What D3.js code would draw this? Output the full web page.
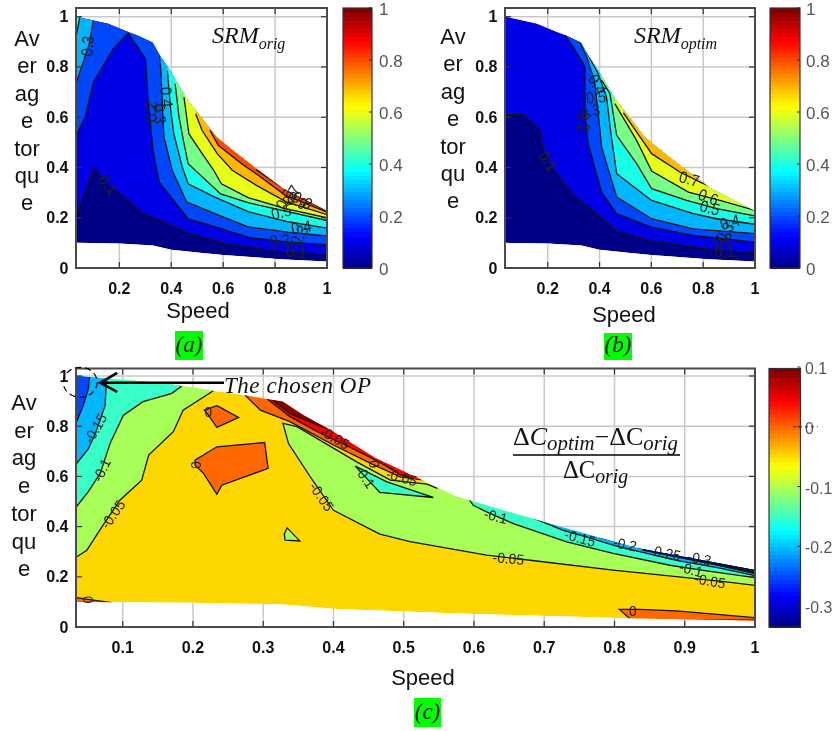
<!DOCTYPE html>
<html><head><meta charset="utf-8">
<script src="https://cdnjs.cloudflare.com/ajax/libs/d3/7.8.5/d3.min.js"></script>
<style>
html,body{margin:0;padding:0;background:#fff;overflow:hidden}
svg{display:block;filter:blur(0.4px)}
text{font-family:"Liberation Sans",Arial,sans-serif}
.serif{font-family:"Liberation Serif",serif;font-style:italic}
</style></head><body><svg id="c" width="833" height="731"></svg>
<script>
// ---------- DATA (speed, average torque) ----------
const envelopeTop=[[.033,1],[.1,.985],[.157,.972],[.234,.939],[.27,.925],[.328,.897],[.356,.846],[.395,.786],[.459,.674],[.51,.607],[.574,.521],[.638,.468],[.728,.395],[.83,.316],[.92,.269],[1,.227]];
const envelopeBottom=[[1,.026],[.82,.035],[.6,.052],[.52,.06],[.4,.073],[.33,.09],[.2,.097],[.033,.1]];
const xTicksSmall=[.2,.4,.6,.8,1];
const yTicks=[0,.2,.4,.6,.8,1];
const xTicksWide=[.1,.2,.3,.4,.5,.6,.7,.8,.9,1];
const barTicksSRM=[0,.2,.4,.6,.8,1];
const barTicksDelta=[-.3,-.2,-.1,0,.1];
const yLabelPieces=["Av","er","ag","e","tor","qu","e"];

const srmOrigContours=[
 {fill:.1,line:[[.033,.203],[.102,.398],[.151,.336],[.234,.269],[.292,.216],[.356,.19],[.465,.139],[.612,.097],[.741,.077],[.843,.061],[1,.057]]},
 {fill:.2,line:[[.033,.525],[.068,.601],[.1,.74],[.177,.873],[.234,.935],[.301,.833],[.311,.667],[.33,.468],[.354,.342],[.465,.196],[.574,.163],[.702,.121],[.856,.103],[1,.093]]},
 {fill:.3,line:[[.354,.846],[.36,.786],[.366,.64],[.372,.521],[.404,.388],[.459,.263],[.568,.216],[.696,.164],[.85,.143],[1,.128]]},
 {fill:.4,line:[[.385,.786],[.398,.627],[.41,.534],[.442,.403],[.465,.335],[.568,.282],[.696,.224],[.85,.184],[1,.159]]},
 {fill:.5,line:[[.415,.733],[.43,.6],[.449,.496],[.465,.415],[.59,.295],[.696,.26],[.84,.226],[1,.189]]},
 {fill:.6,line:[[.449,.68],[.468,.534],[.519,.455],[.564,.388],[.593,.335],[.696,.28],[.84,.236],[1,.2]]},
 {fill:.7,line:[[.494,.613],[.519,.547],[.577,.455],[.635,.389],[.728,.329],[.843,.263],[1,.212]]},
 {fill:.8,line:[[.549,.547],[.581,.488],[.671,.415],[.735,.369],[.838,.29],[1,.222]]},
 {fill:.9,line:[[.728,.39],[.843,.31],[1,.226]]},
 {fill:.3,mode:"upLeft",line:[[.033,.733],[.084,.893],[.1,.985]]},
 {fill:.4,mode:"upLeft",line:[[.033,.919],[.048,.999]]}
];
const srmOrigLabels=[
 ["0.3",.077,.883,-85],["0.1",.157,.333,50],["0.2",.321,.621,-90],["0.3",.356,.614,85],["0.4",.382,.68,85],
 ["0.5",.824,.223,-15],["0.6",.837,.273,-60],["0.7",.862,.289,-60],["0.9",.886,.269,30],["0.8",.905,.269,30],
 ["0.4",.901,.163,-10],["0.3",.892,.13,-60],["0.2",.818,.11,-5],["0.1",.882,.064,5]
];
const srmOptimContours=[
 {fill:.1,line:[[.035,.611],[.103,.611],[.167,.554],[.183,.468],[.221,.395],[.299,.289],[.389,.216],[.466,.147],[.601,.107],[.762,.084],[.852,.07],[1,.061]]},
 {fill:.2,line:[[.266,.928],[.299,.879],[.344,.8],[.344,.614],[.356,.495],[.408,.302],[.466,.216],[.601,.163],[.762,.13],[1,.103]]},
 {fill:.3,line:[[.324,.899],[.35,.84],[.38,.747],[.395,.614],[.408,.481],[.466,.282],[.601,.196],[.762,.156],[1,.137]]},
 {fill:.4,line:[[.35,.859],[.395,.773],[.427,.68],[.444,.534],[.466,.375],[.601,.269],[.762,.216],[.852,.196],[1,.174]]},
 {fill:.5,line:[[.408,.747],[.44,.694],[.466,.528],[.543,.415],[.601,.316],[.736,.269],[.852,.236],[1,.207]]},
 {fill:.6,line:[[.459,.654],[.543,.508],[.601,.386],[.743,.302],[.865,.269],[1,.229]]},
 {fill:.7,line:[[.492,.617],[.601,.455],[.71,.382],[.788,.342],[.878,.302]]}
];
const srmOptimLabels=[
 ["0.1",.202,.426,55],["0.2",.34,.581,90],["0.3",.363,.625,-10],["0.5",.386,.68,-5],["0.4",.391,.731,60],
 ["0.7",.746,.355,15],["0.6",.82,.282,20],["0.5",.826,.24,15],["0.4",.903,.183,-15],["0.3",.884,.143,-60],["0.2",.878,.11,-15],["0.1",.884,.068,0]
];
const deltaBaseFill=-.05;
const deltaContours=[
 {fill:-.1,mode:"upLeft",line:[[.034,.279],[.049,.306],[.072,.406],[.096,.505],[.127,.585],[.137,.685],[.172,.778],[.186,.864],[.229,.941]]},
 {fill:-.15,mode:"upLeft",line:[[.034,.479],[.051,.539],[.068,.612],[.082,.731],[.101,.844],[.129,.898],[.17,.931],[.184,.96]]},
 {fill:-.2,mode:"upLeft",line:[[.034,.65],[.051,.71],[.061,.77],[.075,.883],[.077,.995]]},
 {fill:-.25,mode:"upLeft",line:[[.034,.816],[.044,.883],[.051,.949],[.053,.998]]},
 {fill:-.1,line:[[.548,.552],[.533,.569],[.481,.585],[.433,.658],[.348,.798],[.328,.811],[.336,.731],[.367,.598],[.4,.465],[.466,.37],[.509,.34],[.618,.286],[.68,.266],[.798,.227],[.902,.197],[.959,.18],[1,.166]]},
 {fill:-.15,line:[[.592,.512],[.599,.485],[.618,.459],[.656,.412],[.732,.339],[.798,.293],[.879,.246],[.926,.226],[1,.197]]},
 {fill:-.2,line:[[.675,.445],[.727,.385],[.755,.363],[.803,.322],[.888,.265],[.95,.235],[1,.205]]},
 {fill:-.25,line:[[.779,.357],[.85,.303],[.912,.268],[1,.213]]},
 {fill:-.3,line:[[.84,.306],[.92,.262],[1,.219]]},
 {fill:-.35,line:[[.9,.273],[.95,.25],[1,.223]]},
 {fill:0,line:[[.274,.924],[.296,.864],[.338,.818],[.4,.725],[.455,.649],[.495,.598],[.53,.585]]},
 {fill:.05,line:[[.305,.91],[.338,.838],[.386,.765],[.424,.715],[.455,.672],[.476,.64],[.495,.607],[.514,.59]]},
 {fill:.1,line:[[.312,.907],[.338,.851],[.39,.79]]},
 {fill:0,mode:"closed",line:[[.234,.882],[.265,.835],[.234,.795],[.222,.844],[.216,.864]]},
 {fill:0,mode:"closed",line:[[.203,.665],[.234,.718],[.302,.735],[.307,.632],[.241,.565],[.234,.529],[.215,.612],[.203,.645]]},
 {fill:-.1,mode:"closed",line:[[.334,.395],[.352,.343],[.331,.346],[.33,.37]]},
 {fill:-.15,mode:"closed",line:[[.431,.641],[.476,.578],[.542,.516],[.466,.536]]},
 {fill:0,mode:"down",line:[[.034,.117],[.053,.109],[.084,.097]]},
 {fill:0,mode:"down",line:[[.822,.033],[.807,.07],[.836,.07],[.888,.064],[1,.037]]},
 {fill:.05,mode:"down",stroke:false,line:[[.893,.03],[1,.033]]}
];
const deltaLabels=[
 ["-0.15",.061,.791,-60],["-0.1",.07,.625,-65],["-0.05",.086,.449,-55],["0",.051,.109,-90],["0",.222,.858,0],["0",.204,.645,90],
 ["-0.05",.383,.519,55],["-0.05",.402,.754,30],["0",.458,.649,85],["-0.1",.445,.598,55],["-0.05",.497,.596,15],
 ["-0.1",.631,.441,15],["-0.15",.751,.355,15],["-0.2",.815,.33,12],["-0.25",.872,.295,12],["-0.3",.921,.273,12],
 ["-0.1",.909,.229,15],["-0.05",.936,.184,10],["-0.05",.649,.273,5],["0",.826,.064,0]
];

// ---------- helpers ----------
const svg=d3.select("#c");
const clamp=v=>Math.max(0,Math.min(1,v));
const jet=x=>{const q=(Math.floor(clamp(x)*63.999)+.5)/64;
 return d3.rgb(255*clamp(Math.min(4*q-1.5,-4*q+4.5)),255*clamp(Math.min(4*q-.5,-4*q+3.5)),255*clamp(Math.min(4*q+.5,-4*q+2.5)));};
let uid=0;
function closeLine(c){
 const l=c.line,a=l[0],b=l[l.length-1];
 if(c.mode==="closed")return l;
 if(c.mode==="upLeft")return [...l,[b[0],3],[-1,3],[-1,a[1]]];
 if(c.mode==="down")return [...l,[b[0]+(b[0]>=1?2:0),-1],[a[0],-1]];
 return [...l,[3,b[1]],[3,3],[a[0],3]];
}
function panel(o){
 const x=d3.scaleLinear().domain(o.xDomain).range([o.l,o.r]);
 const y=d3.scaleLinear().domain([0,1]).range([o.y0,o.y1]);
 const bot=o.b, top=o.t;
 const line=d3.line().x(d=>x(d[0])).y(d=>y(d[1]));
 const cv=d3.scaleLinear().domain(o.barDomain).range([0,1]);
 const id="clip"+(uid++);
 const env=[...envelopeTop,...envelopeBottom].map(d=>[Math.max(d[0],o.xDomain[0]),d[1]]);
 svg.append("clipPath").attr("id",id).append("path").attr("d",line(env)+"Z");
 const g=svg.append("g");
 // grid
 g.selectAll(".gx").data(o.xTicks).join("line").attr("x1",d=>x(d)).attr("x2",d=>x(d)).attr("y1",top).attr("y2",bot).attr("stroke","#c9c9c9").attr("stroke-width",1.5);
 g.selectAll(".gy").data(yTicks).join("line").attr("x1",o.l).attr("x2",o.r).attr("y1",d=>y(d)).attr("y2",d=>y(d)).attr("stroke","#c9c9c9").attr("stroke-width",1.5);
 // contour fills
 const m=g.append("g").attr("clip-path",`url(#${id})`);
 m.append("path").attr("d",line(env)+"Z").attr("fill",jet(cv(o.base)));
 o.contours.forEach(c=>{
  m.append("path").attr("d",line(closeLine(c))+"Z").attr("fill",jet(cv(c.fill)));
  if(c.stroke!==false)m.append("path").attr("d",line(c.line)+(c.mode==="closed"?"Z":"")).attr("fill","none").attr("stroke","#141414").attr("stroke-width",1.3);
 });
 // ticks and frame
 const tick=g.append("g").attr("stroke","#333").attr("stroke-width",1.2);
 o.xTicks.forEach(v=>{tick.append("line").attr("x1",x(v)).attr("x2",x(v)).attr("y1",bot).attr("y2",bot-6);tick.append("line").attr("x1",x(v)).attr("x2",x(v)).attr("y1",top).attr("y2",top+6);});
 yTicks.forEach(v=>{tick.append("line").attr("x1",o.l).attr("x2",o.l+6).attr("y1",y(v)).attr("y2",y(v));tick.append("line").attr("x1",o.r).attr("x2",o.r-6).attr("y1",y(v)).attr("y2",y(v));});
 g.append("rect").attr("x",o.l).attr("y",top).attr("width",o.r-o.l).attr("height",bot-top).attr("fill","none").attr("stroke","#4a4a4a").attr("stroke-width",2);
 // tick labels
 g.selectAll(".tx").data(o.xTicks).join("text").attr("x",d=>x(d)).attr("y",bot+26).attr("text-anchor","middle").attr("font-size",16).attr("font-weight","bold").attr("fill","#111").text(d=>String(d));
 g.selectAll(".ty").data(yTicks).join("text").attr("x",o.l-7.5).attr("y",d=>y(d)+5.5).attr("text-anchor","end").attr("font-size",16).attr("font-weight","bold").attr("fill","#111").text(d=>String(d));
 // contour labels
 g.selectAll(".cl").data(o.labels).join("text").attr("text-anchor","middle").attr("font-size",o.labelSize).attr("fill","#222").attr("dy",o.labelSize*.35)
  .attr("transform",d=>`translate(${x(d[1])},${y(d[2])}) rotate(${d[3]}) scale(${o.labelStretch},1)`).text(d=>d[0]);
 // axis titles
 g.append("text").attr("x",o.speedX).attr("y",o.speedY).attr("text-anchor","middle").attr("font-size",22).attr("fill","#111").text("Speed");
 g.selectAll(".yl").data(yLabelPieces).join("text").attr("x",o.ylX).attr("y",(d,i)=>o.ylY+i*o.ylStep).attr("text-anchor","middle").attr("font-size",22).attr("fill","#111").text(d=>d);
 // colour bar
 const by=d3.scaleLinear().domain(o.barDomain).range([bot,top]);
 const bands=d3.range(64);
 const bh=(bot-top)/64;
 g.selectAll(".bd").data(bands).join("rect").attr("x",o.bl).attr("width",o.br-o.bl).attr("y",i=>bot-(i+1)*bh).attr("height",bh+1).attr("shape-rendering","crispEdges").attr("fill",i=>jet((i+.5)/64));
 g.append("rect").attr("x",o.bl).attr("y",top).attr("width",o.br-o.bl).attr("height",bot-top).attr("fill","none").attr("stroke","#333").attr("stroke-width",1.2);
 g.selectAll(".bt").data(o.barTicks).join("line").attr("x1",o.br-3).attr("x2",o.br).attr("y1",d=>by(d)).attr("y2",d=>by(d)).attr("stroke","#222");
 g.selectAll(".bl").data(o.barTicks).join("text").attr("x",o.barText).attr("y",d=>by(d)+7).attr("font-size",o.barFont).attr("fill","#555").text(d=>String(d));
 return {x,y,by};
}
function panelTag(x0,x1,y0,y1,t){
 svg.append("rect").attr("x",x0).attr("y",y0).attr("width",x1-x0).attr("height",y1-y0).attr("fill","#00ff00");
 svg.append("text").attr("class","serif").attr("x",(x0+x1)/2).attr("y",y1-8).attr("text-anchor","middle").attr("font-size",23).attr("fill","#111").text(t);
}
function subTitle(x,y,main,sub,fs,ss){
 const t=svg.append("text").attr("class","serif").attr("x",x).attr("y",y).attr("font-size",fs).attr("fill","#111");
 t.append("tspan").text(main);
 t.append("tspan").attr("dy",6).attr("font-size",ss).text(sub);
}

// ---------- panels ----------
panel({l:76,r:327,t:8,b:268,xDomain:[.033,1],y0:268,y1:16.7,xTicks:xTicksSmall,barDomain:[0,1],base:0,labelSize:16.5,labelStretch:.88,barFont:17,
 contours:srmOrigContours,labels:srmOrigLabels,speedX:198,speedY:318,ylX:27,ylY:46,ylStep:27.4,bl:343,br:372,barTicks:barTicksSRM,barText:379});
panel({l:505,r:755,t:8,b:268,xDomain:[.035,1],y0:268,y1:16.7,xTicks:xTicksSmall,barDomain:[0,1],base:0,labelSize:16.5,labelStretch:.88,barFont:17,
 contours:srmOptimContours,labels:srmOptimLabels,speedX:624,speedY:322,ylX:453,ylY:44,ylStep:27.4,bl:770,br:800,barTicks:barTicksSRM,barText:806});
const pc=panel({l:76,r:755,t:368.5,b:627,xDomain:[.0335,1],y0:627,y1:376,xTicks:xTicksWide,barDomain:[-.335,.0975],base:deltaBaseFill,labelSize:14.5,labelStretch:.95,barFont:15.8,
 contours:deltaContours,labels:deltaLabels,speedX:423,speedY:685,ylX:24,ylY:410,ylStep:27.7,bl:769,br:800.5,barTicks:barTicksDelta,barText:805});

// ---------- titles ----------
subTitle(212,43,"SRM","orig",24,16);
subTitle(634,43,"SRM","optim",24,16);
panelTag(175,203,331,360,"(a)");
panelTag(604,632,333,360,"(b)");
panelTag(414,441,698,727,"(c)");

// annotation: the chosen operating point
const tipX=pc.x(.068),tipY=pc.y(.973);
svg.append("line").attr("x1",tipX).attr("y1",tipY).attr("x2",224).attr("y2",tipY).attr("stroke","#000").attr("stroke-width",2.6);
svg.append("path").attr("d",`M${tipX+17},${tipY-10}L${tipX},${tipY}L${tipX+17},${tipY+9}`).attr("fill","none").attr("stroke","#000").attr("stroke-width",2.6);
svg.append("text").attr("class","serif").attr("x",224).attr("y",393).attr("font-size",23).attr("fill","#111").attr("textLength",147).text("The chosen OP");
svg.append("ellipse").attr("cx",pc.x(.0395)).attr("cy",pc.y(.975)).attr("rx",17).attr("ry",15).attr("fill","none").attr("stroke","#000").attr("stroke-width",1.2).attr("stroke-dasharray","6 4");
// colour bar zero marker
svg.append("line").attr("x1",793).attr("x2",818).attr("y1",pc.by(0)).attr("y2",pc.by(0)).attr("stroke","#333").attr("stroke-dasharray","3 3");

// formula
function formula(x,y,parts,len){
 const t=svg.append("text").attr("x",x).attr("y",y).attr("font-size",25).attr("fill","#111").style("font-family","'Liberation Serif',serif").attr("textLength",len).attr("lengthAdjust","spacingAndGlyphs");
 parts.forEach(p=>{const s=t.append("tspan").text(p.t);
  if(p.i)s.style("font-style","italic");
  if(p.sz)s.attr("font-size",p.sz);
  if(p.s)s.attr("dy",p.s);});
}
formula(513,445,[{t:"Δ"},{t:"C",i:1},{t:"optim",i:1,s:5,sz:20},{t:"−Δ",s:-5},{t:"C"},{t:"orig",i:1,s:5,sz:20}],165);
formula(563,478,[{t:"Δ"},{t:"C"},{t:"orig",i:1,s:5,sz:20}],65);
svg.append("line").attr("x1",513).attr("x2",680).attr("y1",455).attr("y2",455).attr("stroke","#000").attr("stroke-width",1.6);
</script></body></html>
